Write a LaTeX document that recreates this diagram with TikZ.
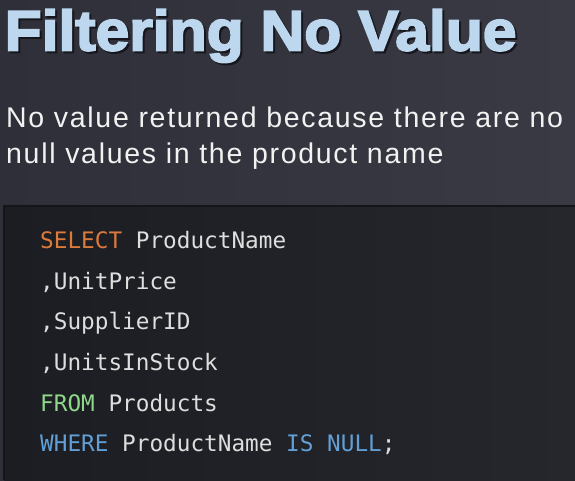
\documentclass[tikz,border=0pt]{standalone}
\usepackage{fontspec}
\newfontfamily\titlefont[FakeBold=3]{Liberation Sans}
\newfontfamily\subfont[LetterSpace=6]{Liberation Sans}
\newfontfamily\codefont{DejaVu Sans Mono}
\definecolor{bgL}{HTML}{2E2F38}
\definecolor{bgR}{HTML}{393A43}
\definecolor{codeL}{HTML}{1C1D22}
\definecolor{codeR}{HTML}{26272C}
\definecolor{codeedge}{HTML}{141519}
\definecolor{titlecol}{HTML}{BDD7EE}
\definecolor{shadowcol}{HTML}{16161C}
\definecolor{subcol}{HTML}{F2F2F2}
\definecolor{codetext}{HTML}{DEDEDE}
\definecolor{kworange}{HTML}{DC7A3A}
\definecolor{kwgreen}{HTML}{8ED889}
\definecolor{kwblue}{HTML}{619FD6}
\tikzset{
  titletext/.style={anchor=base west, inner sep=0pt, font=\titlefont\bfseries\fontsize{57}{57}\selectfont},
  subtext/.style={anchor=base west, inner sep=0pt, text=subcol, font=\subfont\fontsize{28.5}{28.5}\selectfont},
  codeline/.style={anchor=base west, inner sep=0pt, text=codetext, font=\codefont\fontsize{22.7}{22.7}\selectfont}
}
\begin{document}
\begin{tikzpicture}[x=1pt,y=1pt]
\useasboundingbox (0,0) rectangle (575,-480);
\shade[left color=bgL, right color=bgR] (0,0) rectangle (575,-480);
\shade[left color=codeL, right color=codeR] (4,-206) rectangle (575,-480);
\draw[codeedge, line width=1.5pt] (4,-480) -- (4,-206) -- (575,-206);
\node[titletext, text=shadowcol] (titleshadow) at (6.5,-52.5) {\scalebox{1.063}[1]{Filtering No Value}};
\node[titletext, text=titlecol] (title) at (4.5,-50.5) {\scalebox{1.063}[1]{Filtering No Value}};
\node[subtext] (sub1) at (6,-127.5) {No value returned because there are no};
\node[subtext] (sub2) at (6,-163) {null values in the product name};
\node[codeline] (c1) at (40,-248.3) {\textcolor{kworange}{SELECT} ProductName};
\node[codeline] (c2) at (40,-289) {,UnitPrice};
\node[codeline] (c3) at (40,-329.7) {,SupplierID};
\node[codeline] (c4) at (40,-370.4) {,UnitsInStock};
\node[codeline] (c5) at (40,-411.1) {\textcolor{kwgreen}{FROM} Products};
\node[codeline] (c6) at (40,-451.8) {\textcolor{kwblue}{WHERE} ProductName \textcolor{kwblue}{IS NULL};};
\end{tikzpicture}
\end{document}
